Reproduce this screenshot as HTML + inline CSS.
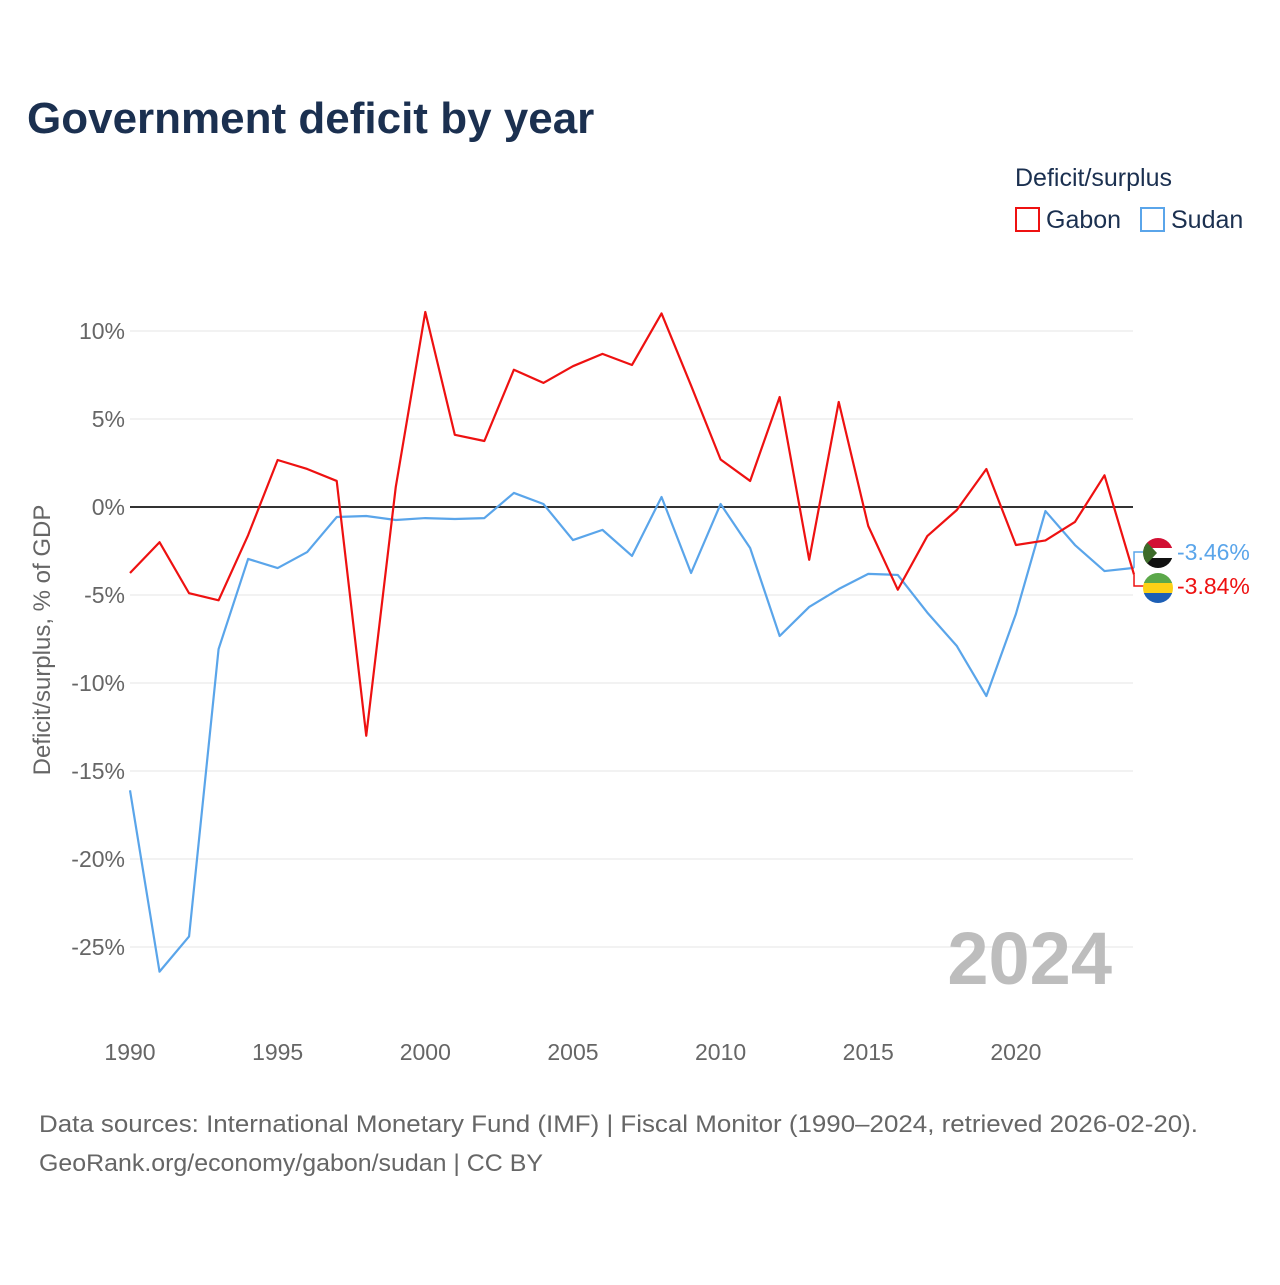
<!DOCTYPE html>
<html><head><meta charset="utf-8"><style>
body{margin:0;background:#fff;font-family:"Liberation Sans",sans-serif}
svg text{font-family:"Liberation Sans",sans-serif}
</style></head><body>
<svg width="1280" height="1280" viewBox="0 0 1280 1280">
<text x="27" y="133" font-size="44" font-weight="bold" fill="#1b3050">Government deficit by year</text>
<text x="1015" y="186" font-size="25" fill="#1b3050">Deficit/surplus</text>
<g><rect x="1016" y="208" width="23" height="23" fill="none" stroke="#ee1111" stroke-width="2"/><text x="1046" y="228" font-size="25" fill="#1b3050">Gabon</text></g>
<g><rect x="1141" y="208" width="23" height="23" fill="none" stroke="#5aa5ea" stroke-width="2"/><text x="1171" y="228" font-size="25" fill="#1b3050">Sudan</text></g>
<g id="grid"></g>
<g id="yt"></g><g id="xt"></g>
<text transform="translate(50,640) rotate(-90)" text-anchor="middle" font-size="24" fill="#666">Deficit/surplus, % of GDP</text>
<text x="1112" y="984" text-anchor="end" font-size="74" font-weight="bold" fill="#bdbdbd">2024</text>
<g id="series"></g>
<g id="labels"></g>
<text x="39" y="1132" font-size="24" fill="#666" textLength="1159" lengthAdjust="spacingAndGlyphs">Data sources: International Monetary Fund (IMF) | Fiscal Monitor (1990–2024, retrieved 2026-02-20).</text>
<text x="39" y="1171" font-size="24" fill="#666" textLength="504" lengthAdjust="spacingAndGlyphs">GeoRank.org/economy/gabon/sudan | CC BY</text>
</svg>
<script>
const years=[1990,1991,1992,1993,1994,1995,1996,1997,1998,1999,2000,2001,2002,2003,2004,2005,2006,2007,2008,2009,2010,2011,2012,2013,2014,2015,2016,2017,2018,2019,2020,2021,2022,2023,2024];
const gabon=[-3.75,-2.0,-4.9,-5.3,-1.6,2.67,2.16,1.48,-13.0,1.14,11.08,4.1,3.75,7.8,7.05,8.0,8.7,8.07,11.0,6.9,2.7,1.48,6.25,-3.0,5.97,-1.08,-4.7,-1.65,-0.17,2.16,-2.16,-1.9,-0.85,1.8,-3.84];
const sudan=[-16.1,-26.4,-24.4,-8.07,-2.95,-3.47,-2.56,-0.57,-0.51,-0.74,-0.63,-0.68,-0.63,0.8,0.17,-1.88,-1.3,-2.78,0.57,-3.75,0.17,-2.33,-7.33,-5.68,-4.66,-3.8,-3.86,-6.0,-7.9,-10.74,-6.08,-0.23,-2.16,-3.64,-3.46];
const yTicks=[10,5,0,-5,-10,-15,-20,-25];
const xTicks=[1990,1995,2000,2005,2010,2015,2020];
const NS='http://www.w3.org/2000/svg';
const X=y=>130+(y-1990)*29.53, Y=v=>507-v*17.6;
function mk(t,a,p){const e=document.createElementNS(NS,t);for(const k in a)e.setAttribute(k,a[k]);document.getElementById(p).appendChild(e);return e;}
yTicks.forEach(v=>{
 const l=mk('line',{x1:130,x2:1133,y1:Y(v),y2:Y(v),stroke:v===0?'#333':'#e6e6e6','stroke-width':v===0?2:1},'grid');
 
 
 const t=mk('text',{x:125,y:Y(v)+8,'text-anchor':'end','font-size':23,fill:'#666'},'yt');
 t.textContent=v+'%';
 
 
});
xTicks.forEach(y=>{
 const t=mk('text',{x:X(y),y:1060,'text-anchor':'middle','font-size':23,fill:'#666'},'xt');
 t.textContent=y;
 
 
});
function line(d,c,n){
 const p=mk('polyline',{points:d.map((v,i)=>X(years[i])+','+Y(v)).join(' '),fill:'none',stroke:c,'stroke-width':2.2,'stroke-linejoin':'round'},'series');
 
 
}
line(sudan,'#5aa5ea','line-sudan');
line(gabon,'#ee1111','line-gabon');
const lastS=sudan[sudan.length-1], lastG=gabon[gabon.length-1];
const endX=X(years[years.length-1]);
function lab(v,ly,c,n){
 const p=mk('polyline',{points:`${endX},${Y(v)} ${endX},${ly} 1145,${ly}`,fill:'none',stroke:c,'stroke-width':1.5},'labels');
 
 
 const t=mk('text',{x:1177,y:ly+8,'font-size':23,fill:c},'labels');
 t.textContent=v.toFixed(2)+'%';
 
 
}
lab(lastS,552,'#5aa5ea','sudan');
lab(lastG,586,'#ee1111','gabon');
const L=document.getElementById('labels');
L.insertAdjacentHTML('beforeend',`
<g><clipPath id="cs"><circle cx="1158" cy="553" r="15"/></clipPath><g clip-path="url(#cs)"><rect x="1143" y="538" width="30" height="10" fill="#d21034"/><rect x="1143" y="548" width="30" height="10" fill="#fff"/><rect x="1143" y="558" width="30" height="10" fill="#111"/><polygon points="1143,538 1157,553 1143,568" fill="#3d6b2a"/></g></g>
<g><clipPath id="cg"><circle cx="1158" cy="588" r="15"/></clipPath><g clip-path="url(#cg)"><rect x="1143" y="573" width="30" height="10" fill="#5ba84a"/><rect x="1143" y="583" width="30" height="10" fill="#fcd116"/><rect x="1143" y="593" width="30" height="10" fill="#1d5fb5"/></g></g>`);
</script>
</body></html>
